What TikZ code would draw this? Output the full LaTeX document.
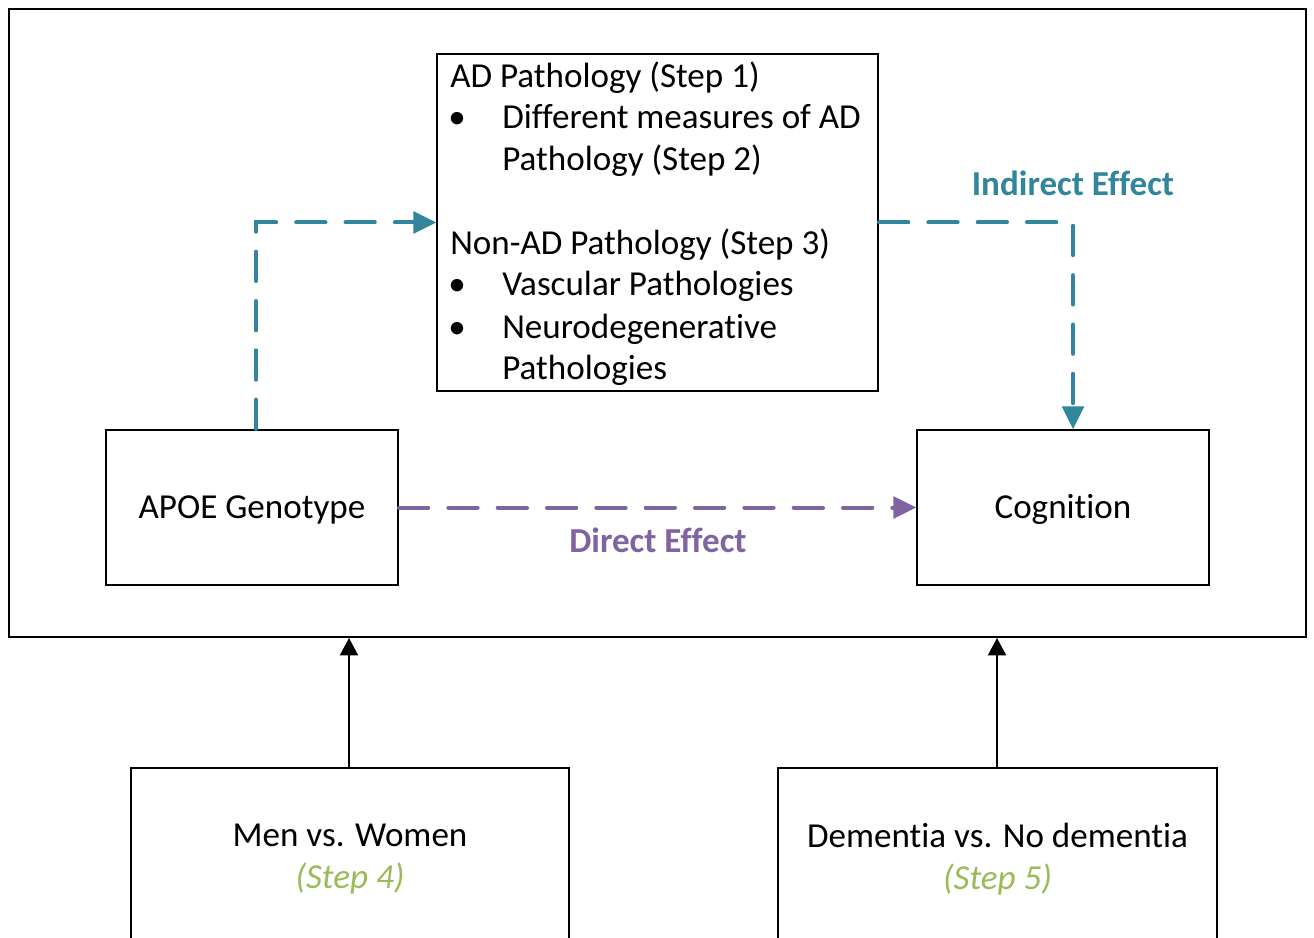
\documentclass[tikz,border=0pt]{standalone}
\usepackage{fontspec}
\setmainfont{Carlito}[Ligatures=NoCommon]
\usetikzlibrary{arrows.meta}
\definecolor{tealc}{HTML}{31859C}
\definecolor{purp}{HTML}{8064A2}
\definecolor{greenc}{HTML}{9BBB59}
\begin{document}
\begin{tikzpicture}[x=0.75pt,y=-0.75pt,
  every node/.style={font=\fontsize{26.3}{31.5}\selectfont},
  box/.style={draw=black,line width=1.5pt,inner sep=0pt},
  capbox/.style={box,text height=17pt,text depth=0pt},
  line/.style={anchor=base west,inner sep=0pt},
  tealdash/.style={draw=tealc,line width=3pt,dash pattern=on 22pt off 15pt,line cap=round,-{Triangle[length=17pt,width=17pt,line width=0pt]}},
  purpdash/.style={draw=purp,line width=3pt,dash pattern=on 22pt off 15pt,line cap=round,-{Triangle[length=17pt,width=17pt,line width=0pt]}},
  blackarrow/.style={draw=black,line width=1.5pt,-{Triangle[length=13pt,width=13.5pt]}}
]
\path[use as bounding box] (0,0) rectangle (1314,938);
\clip (0,0) rectangle (1314,938);
\fill[white] (0,0) rectangle (1314,938);

\node[box,minimum width=972.75pt,minimum height=471pt] (outer) at (657.5,323) {};
\node[box,minimum width=330.75pt,minimum height=252.75pt] (path) at (657.5,222.5) {};
\node[capbox,minimum width=219pt,minimum height=116.25pt] (apoe) at (252,507.5) {APOE Genotype};
\node[capbox,minimum width=219pt,minimum height=116.25pt] (cog) at (1063,507.5) {Cognition};

\node[line] (p1) at (450,88) {AD Pathology (Step 1)};
\node[line] (b1) at (448,129) {•};
\node[line] (p2) at (502,129) {Different measures of AD};
\node[line] (p3) at (502,171) {Pathology (Step 2)};
\node[line] (p4) at (450,254) {Non-AD Pathology (Step 3)};
\node[line] (b2) at (448,296) {•};
\node[line] (p5) at (502,296) {Vascular Pathologies};
\node[line] (b3) at (448,338) {•};
\node[line] (p6) at (502,338) {Neurodegenerative};
\node[line] (p7) at (502,379) {Pathologies};

\draw[tealdash] ([xshift=3pt]apoe.north) |- (path.west);
\draw[tealdash] (path.east) -| ([xshift=7.5pt]cog.north);
\draw[purpdash] (apoe.east) -- (cog.west);

\node[text=tealc,font=\fontsize{26.3}{31.5}\selectfont\bfseries] (ind) at (1073,183) {Indirect Effect};
\node[text=purp,font=\fontsize{26.3}{31.5}\selectfont\bfseries] (dir) at (658,540) {Direct Effect};

\node[box,minimum width=328.5pt,minimum height=174pt] (men) at (350,884) {};
\node[box,minimum width=329.25pt,minimum height=174pt] (dem) at (997.5,884) {};
\node[align=center,inner sep=0pt] (menl) at (350,859) {Men vs. Women\\\textcolor{greenc}{\itshape (Step 4)}};
\node[align=center,inner sep=0pt] (deml) at (997.5,859) {Dementia vs. No dementia\\\textcolor{greenc}{\itshape (Step 5)}};

\draw[blackarrow] (men.north -| 349,0) -- (349,0 |- outer.south);
\draw[blackarrow] (997,0 |- dem.north) -- (997,0 |- outer.south);
\end{tikzpicture}
\end{document}
